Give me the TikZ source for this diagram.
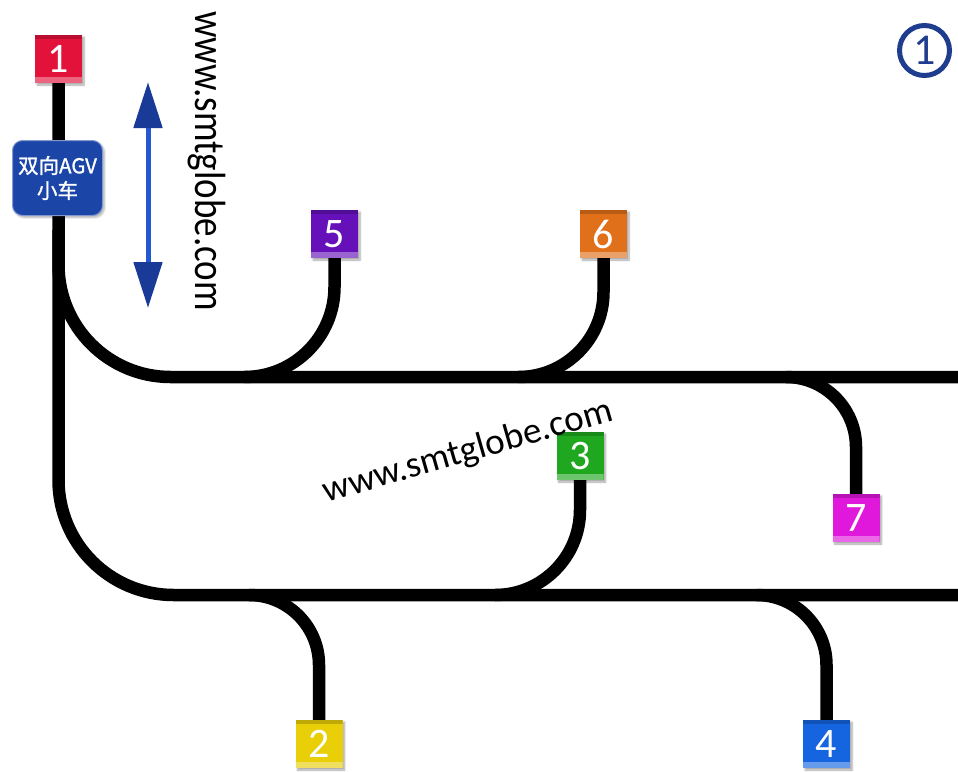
\documentclass[tikz,border=0pt]{standalone}
\usepackage{fontspec}
\setmainfont{Carlito}
\newfontfamily\cjk{Noto Sans CJK SC}[FakeBold=1.2]
\usetikzlibrary{arrows.meta,backgrounds,shadows.blur}
\definecolor{cred}{HTML}{E2123A}
\definecolor{cpurple}{HTML}{6510B8}
\definecolor{corange}{HTML}{E0701A}
\definecolor{cgreen}{HTML}{1FA81F}
\definecolor{cmagenta}{HTML}{E018DC}
\definecolor{cyellow}{HTML}{E8CF08}
\definecolor{cblue}{HTML}{1565E0}
\definecolor{agvblue}{HTML}{1C45A8}
\definecolor{arrowdark}{HTML}{1A3A98}
\definecolor{arrowshaft}{HTML}{2458D0}
\definecolor{circblue}{HTML}{1E3D8E}
\begin{document}
\begin{tikzpicture}[x=1pt,y=-1pt,
  track/.style={line width=12.5pt,black},
  station/.style={fill=#1,minimum width=47pt,minimum height=48pt,inner sep=0pt,
    text=white,font=\fontsize{42}{42}\selectfont,
    blur shadow={shadow blur steps=6,shadow xshift=2pt,shadow yshift=-2pt,shadow opacity=35},
    path picture={
      \fill[black,opacity=0.18] (path picture bounding box.north west) rectangle ([yshift=-4pt]path picture bounding box.north east);
      \fill[white,opacity=0.35] ([yshift=6pt]path picture bounding box.south west) rectangle (path picture bounding box.south east);
    }},
  watermark/.style={font=\fontsize{37}{37}\selectfont,text=black,inner sep=0pt}
]
\useasboundingbox (0,0) rectangle (958,771);
% stations
\node[station=cred]     (s1) at (58.5,59)  {1};
\node[station=cpurple]  (s5) at (334.5,234) {5};
\node[station=corange]  (s6) at (603.5,234) {6};
\node[station=cgreen]   (s3) at (580,456)  {3};
\node[station=cmagenta] (s7) at (856,518)  {7};
\node[station=cyellow]  (s2) at (319,744)  {2};
\node[station=cblue]    (s4) at (826.5,744) {4};
% AGV
\node[fill=agvblue,draw=agvblue!55!white,line width=1pt,rounded corners=10pt,
      minimum width=90pt,minimum height=75pt,inner sep=0pt,text=white,align=center,
      font=\cjk\fontsize{20.5}{25}\selectfont,
      blur shadow={shadow blur steps=6,shadow xshift=2pt,shadow yshift=-2pt,shadow opacity=30}]
      (agv) at (57.5,178) {双向AGV\\小车};
% circled one
\node[circle,draw=circblue,line width=5pt,minimum size=50pt,inner sep=0pt,
      text=circblue,font=\fontsize{44}{44}\selectfont] (c1) at (924.5,50.5) {1};
% coordinates
\coordinate (u0) at (58.5,230);
\coordinate (eU) at (958,377);
\coordinate (eL) at (958,595);
\coordinate (j5) at (244.5,377);
\coordinate (j6) at (518.5,377);
\coordinate (j7) at (786,377);
\coordinate (j3) at (495,595);
\coordinate (j2) at (249,595);
\coordinate (j4) at (756.5,595);
\coordinate (aT) at (148,82);
\coordinate (aB) at (148,308);
% tracks
\begin{scope}[on background layer]
  \draw[track,rounded corners=115pt] (s1.south) |- (eL);
  \draw[track,rounded corners=112pt] (u0) |- (eU);
  \draw[track,rounded corners=90pt] (j5) -| (s5.south);
  \draw[track,rounded corners=85pt] (j6) -| (s6.south);
  \draw[track,rounded corners=70pt] (j7) -| (s7.north);
  \draw[track,rounded corners=85pt] (j3) -| (s3.south);
  \draw[track,rounded corners=70pt] (j2) -| (s2.north);
  \draw[track,rounded corners=70pt] (j4) -| (s4.north);
\end{scope}
% double arrow
\draw[line width=5pt,arrowshaft,
  {Triangle[length=46pt,width=28pt,color=arrowdark]}-{Triangle[length=46pt,width=28pt,color=arrowdark]}]
  (aT) -- (aB);
% watermarks
\node[watermark,rotate=-90,yscale=1.18] (w1) at (207,161) {www.smtglobe.com};
\node[watermark,rotate=16] (w2) at (468,452) {www.smtglobe.com};
\end{tikzpicture}
\end{document}
